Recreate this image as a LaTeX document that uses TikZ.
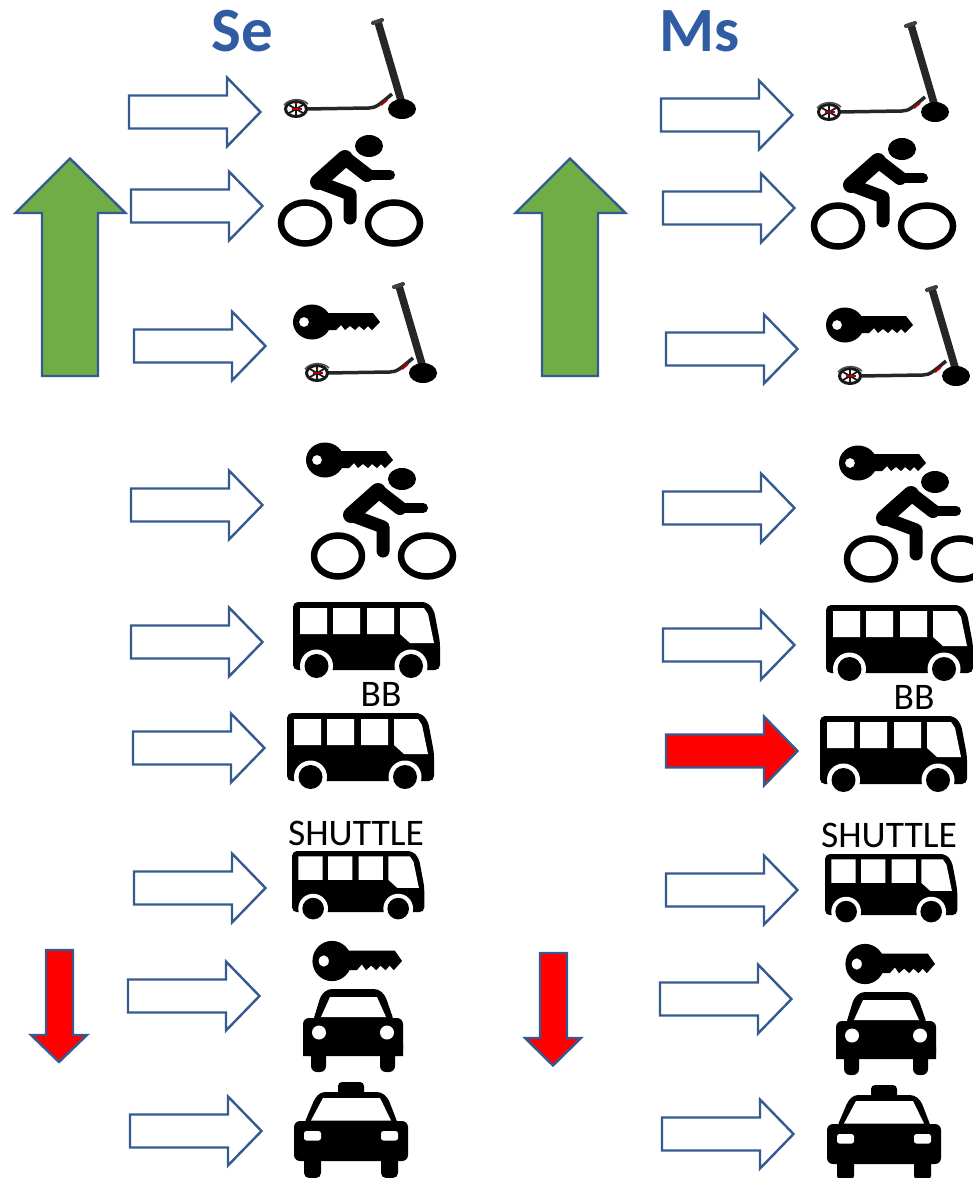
\documentclass[tikz,border=0pt]{standalone}
\usepackage{fontspec}
\setmainfont{Carlito}
\usepackage{tikz}
\definecolor{arrowblue}{HTML}{355A8F}
\definecolor{headblue}{HTML}{2F5CA3}
\definecolor{upgreen}{HTML}{70AD47}
\tikzset{
    arrowline/.style={draw=arrowblue, line width=2.4pt, miter limit=10},
    headtext/.style={font=\fontsize{63}{63}\selectfont\bfseries, text=headblue, inner sep=0pt},
    labeltext/.style={font=\fontsize{37.5}{38}\selectfont, inner sep=0pt},
    pics/modearrow/.style={code={
        \draw[arrowline, fill=#1] (1,-16.5) -- (99,-16.5) -- (99,-34.5) -- (132.5,0) -- (99,34.5) -- (99,16.5) -- (1,16.5) -- cycle;
    }},
    pics/modearrow/.default=white,
    scooter/.pic={
        \draw[line width=7.5pt, black!85] (-24,-87) -- (1,-2);
        \draw[line width=4pt, black!75, line cap=round] (-29,-86) -- (-20,-89);
        \fill[black] (0,0) ellipse [x radius=14, y radius=10];
        \draw[line width=3.5pt, black!85] (-97,0) -- (-33,-1) .. controls (-26,-1) and (-22,-5) .. (-10,-15);
        \draw[line width=2pt, red!70!black] (-21,-4) -- (-15,-9);
        \draw[line width=3pt, black!90] (-106,0) ellipse [x radius=10.5, y radius=7.5];
        \draw[line width=1.8pt, black!90] (-106,-6) -- (-106,6) (-113,4) -- (-99,-4) (-113,-4) -- (-99,4);
        \draw[line width=1.2pt, red!70!black] (-110,0) -- (-100,0);
        \draw[line width=1.5pt, black!70] (-118,-4) .. controls (-112,-11) and (-100,-11) .. (-94,-5);
    },
    cyclist/.pic={
        \fill[black] (0,0) ellipse [x radius=14, y radius=11];
        \draw[line width=6.5pt] (-64,77) ellipse [x radius=24, y radius=20.5];
        \draw[line width=6.5pt] (25,77) ellipse [x radius=26, y radius=20.5];
        \draw[line width=10pt, line join=round, line cap=round] (21,29) -- (-2,29);
        \draw[line width=14pt, line join=round, line cap=round] (-2,29) -- (-24,12);
        \draw[line width=16pt, line join=round, line cap=round] (-24,12) -- (-51,36);
        \draw[line width=13pt, line join=round, line cap=round] (-51,36) -- (-19,48) -- (-19,72);
    },
    ridekey/.pic={
        \fill[black, even odd rule] (0,0) ellipse [x radius=19, y radius=17.5] (-8,0) circle [radius=5];
        \fill[black] (14,-9) -- (61,-9) -- (68,0) -- (60,8) -- (56,4) -- (52,8) -- (47,4) -- (43,8) -- (38,4) -- (33,8) -- (29,3) -- (24,8) -- (14,8) -- cycle;
    },
    minibus/.pic={
        \fill[black, rounded corners=5pt] (0,68) -- (0,0) -- (134,0) -- (141,8) -- (147,40) -- (147,68) -- cycle;
        \fill[white] (7,6) rectangle (34,32) (40,6) rectangle (67,32) (74,6) rectangle (101,32);
        \fill[white] (107,6) -- (131,6) -- (135,12) -- (141,41) -- (117,41) -- (107,32) -- cycle;
        \fill[white] (23.5,64) circle [radius=16.5] (118,64) circle [radius=16.5];
        \fill[black] (23.5,64) circle [radius=12] (118,64) circle [radius=12];
    },
    sedan/.pic={
        \fill[black, rounded corners=4pt] (-40,32) -- (-32,6) -- (-25,0) -- (25,0) -- (32,6) -- (41,32) -- cycle;
        \fill[black, rounded corners=6pt] (-50,67) -- (-50,29) -- (50,29) -- (50,67) -- cycle;
        \fill[black] (-50,55) rectangle (-42,67) (42,55) rectangle (50,67);
        \fill[black, rounded corners=6pt] (-42,60) -- (-42,83) -- (-27,83) -- (-27,60) -- cycle;
        \fill[black, rounded corners=6pt] (27,60) -- (27,83) -- (42,83) -- (42,60) -- cycle;
        \fill[white] (-23,8) -- (24,8) -- (33,28) -- (-32,28) -- cycle;
        \fill[white] (-34,43.5) circle [radius=7] (34,43.5) circle [radius=7];
    },
    taxicab/.pic={
        \fill[black, rounded corners=4pt] (-13,4) -- (-13,-10) -- (13,-10) -- (13,4) -- cycle;
        \fill[black, rounded corners=4pt] (-47,32) -- (-36,6) -- (-30,0) -- (30,0) -- (37,6) -- (47,32) -- cycle;
        \fill[black, rounded corners=6pt] (-57,69) -- (-57,29) -- (57,29) -- (57,69) -- cycle;
        \fill[black, rounded corners=5pt] (-47,60) -- (-47,86) -- (-30,86) -- (-30,60) -- cycle;
        \fill[black, rounded corners=5pt] (30,60) -- (30,86) -- (47,86) -- (47,60) -- cycle;
        \fill[white] (-28,6) -- (29,6) -- (40,28.5) -- (-40,28.5) -- cycle;
        \fill[white, rounded corners=2.5pt] (-47,39) rectangle (-30,48.5) (30,39) rectangle (47,48.5);
    },
}
\begin{document}
\begin{tikzpicture}[x=1pt,y=-1pt]
    \useasboundingbox (0,0) rectangle (973,1178);
    \clip (0,0) rectangle (973,1178);

    \node[headtext] (se) at (242,31) {Se};
    \node[headtext] (ms) at (700,31) {Ms};

    \draw[arrowline, fill=upgreen] (70,158.5) -- (125.5,213) -- (98,213) -- (98,376) -- (42,376) -- (42,213) -- (15.5,213) -- cycle;
    \draw[arrowline, fill=upgreen] (570,158.5) -- (625.5,213) -- (598,213) -- (598,376) -- (542,376) -- (542,213) -- (515.5,213) -- cycle;
    \draw[arrowline, fill=red] (46,950) -- (73,950) -- (73,1035) -- (87,1035) -- (59,1062) -- (31,1035) -- (46,1035) -- cycle;
    \draw[arrowline, fill=red] (540,953) -- (567,953) -- (567,1038) -- (581,1038) -- (553,1065.5) -- (525,1038) -- (540,1038) -- cycle;

    \pic at (128,112) {modearrow};
    \pic at (130,206) {modearrow};
    \pic at (133,346) {modearrow};
    \pic at (130,505) {modearrow};
    \pic at (130,642) {modearrow};
    \pic at (132,748) {modearrow};
    \pic at (133,888) {modearrow};
    \pic at (127,996) {modearrow};
    \pic at (129,1131) {modearrow};

    \pic at (660,115) {modearrow};
    \pic at (662,208) {modearrow};
    \pic at (665,349) {modearrow};
    \pic at (662,508) {modearrow};
    \pic at (662,645) {modearrow};
    \pic at (665,751) {modearrow=red};
    \pic at (665,890) {modearrow};
    \pic at (659,999) {modearrow};
    \pic at (661,1134) {modearrow};

    \pic at (402,109) {scooter};
    \pic at (369,146) {cyclist};
    \pic at (312,322) {ridekey};
    \pic at (423,373) {scooter};
    \pic at (325,460) {ridekey};
    \pic at (402,479) {cyclist};
    \pic at (293,602) {minibus};
    \node[labeltext] (bbleft) at (381,694) {BB};
    \pic at (287,713) {minibus};
    \node[labeltext] (shuttleleft) at (356,833) {SHUTTLE};
    \pic[scale=0.9] at (292,851) {minibus};
    \pic[yscale=1.15,xscale=1.03] at (332,961) {ridekey};
    \pic at (353,989) {sedan};
    \pic at (351,1092) {taxicab};

    \pic at (935,112) {scooter};
    \pic at (902,149) {cyclist};
    \pic at (845,325) {ridekey};
    \pic at (956,376) {scooter};
    \pic at (858,463) {ridekey};
    \pic at (935,482) {cyclist};
    \pic at (826,605) {minibus};
    \node[labeltext] (bbright) at (914,697) {BB};
    \pic at (820,716) {minibus};
    \node[labeltext] (shuttleright) at (889,835) {SHUTTLE};
    \pic[scale=0.9] at (825,854) {minibus};
    \pic[yscale=1.15,xscale=1.03] at (865,964) {ridekey};
    \pic at (886,992) {sedan};
    \pic at (884,1095) {taxicab};
\end{tikzpicture}
\end{document}
